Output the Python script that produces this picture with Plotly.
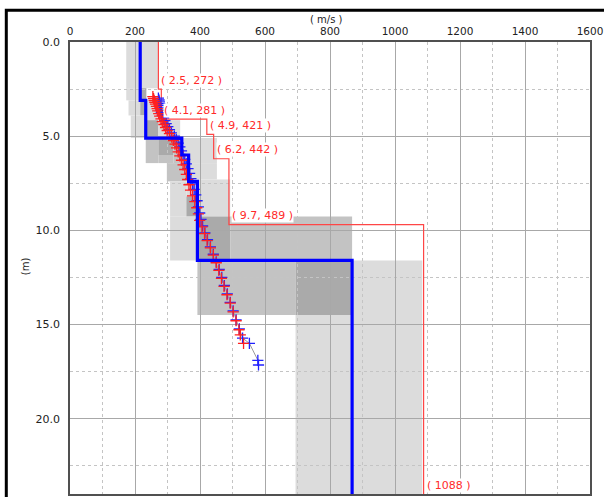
import plotly.graph_objects as go

# ---------------- data ----------------
# final Vs profile (blue step): layer boundaries (m) and Vs (m/s)
blue_depths = [0, 3.1, 5.1, 6.0, 7.4, 11.6, 24]
blue_vs = [216, 233, 344, 365, 392, 868]

# red step profile with labelled corners
red_depths = [0, 2.5, 4.1, 4.9, 6.2, 9.7, 24]
red_vs = [272, 281, 421, 442, 489, 1088]
red_labels = ["( 2.5, 272 )", "( 4.1, 281 )", "( 4.9, 421 )", "( 6.2, 442 )", "( 9.7, 489 )", "( 1088 )"]

# dispersion points (red)
red_pts_v = [255, 257, 259, 261, 263, 266, 268, 270, 273, 276, 280, 284, 289, 294, 299, 306, 313, 318,
             323, 328, 333, 338, 343, 348, 353, 358, 362, 366, 371, 377, 384, 390, 395, 399, 406, 414,
             422, 432, 441, 450, 458, 466, 474, 483, 493, 502, 511, 520, 524, 534]
red_pts_d = [2.90, 3.00, 3.10, 3.20, 3.30, 3.42, 3.54, 3.66, 3.80, 3.94, 4.08, 4.23, 4.38, 4.54, 4.70,
             4.87, 5.05, 5.23, 5.42, 5.62, 5.83, 6.05, 6.28, 6.52, 6.77, 7.03, 7.30, 7.58, 7.87, 8.17,
             8.48, 8.80, 9.13, 9.47, 9.82, 10.18, 10.55, 10.93, 11.32, 11.72, 12.13, 12.55, 12.98,
             13.42, 13.87, 14.33, 14.80, 15.28, 15.55, 16.0]
# dispersion points (blue)
blue_pts_v = [272, 274, 275, 276, 277, 278, 279, 281, 284, 288, 292, 296, 301, 306, 312, 321, 327, 333,
              338, 343, 348, 353, 358, 363, 368, 372, 377, 382, 387, 391, 395, 399, 403, 408, 415, 423,
              432, 441, 450, 459, 467, 475, 484, 493, 502, 511, 521, 531, 552, 578, 580]
blue_pts_d = [2.98, 3.08, 3.18, 3.28, 3.38, 3.50, 3.62, 3.75, 3.89, 4.03, 4.18, 4.33, 4.49, 4.65, 4.82,
              5.00, 5.18, 5.37, 5.57, 5.78, 6.00, 6.23, 6.47, 6.72, 6.98, 7.25, 7.53, 7.82, 8.12, 8.43,
              8.75, 9.08, 9.42, 9.77, 10.13, 10.50, 10.88, 11.27, 11.67, 12.08, 12.50, 12.93, 13.37,
              13.82, 14.28, 14.75, 15.23, 15.72, 16.00, 16.90, 17.15]

# shaded uncertainty regions: Vs range, depth range, shade level (1 light .. 3 dark)
reg_v0 = [173, 173, 180, 216, 187, 235, 235, 272, 233, 272, 318, 272, 344, 298, 365, 308, 358, 358, 392,
          308, 392, 493, 392, 694, 868, 694]
reg_v1 = [272, 216, 216, 235, 233, 272, 272, 339, 272, 318, 344, 318, 452, 365, 452, 358, 392, 392, 493,
          392, 493, 868, 694, 868, 1084, 1084]
reg_d0 = [0, 2.45, 3.1, 2.45, 3.9, 3.1, 4.15, 4.15, 5.1, 5.1, 5.1, 6.0, 5.1, 6.43, 6.43, 7.4, 7.4, 8.2, 7.3,
          9.27, 9.27, 9.27, 11.6, 11.6, 11.6, 14.5]
reg_d1 = [2.45, 3.1, 3.9, 3.9, 5.1, 4.15, 5.05, 5.05, 6.43, 6.0, 6.43, 6.43, 6.43, 7.4, 7.3, 9.27, 8.2, 9.27,
          9.27, 11.6, 11.6, 11.6, 14.5, 14.5, 14.5, 24]
reg_level = [1, 1, 1, 3, 1, 1, 3, 1, 2, 3, 2, 2, 1, 2, 1, 1, 1, 3, 1,
             1, 3, 2, 2, 3, 1, 1]

shade = {1: "#dcdcdc", 2: "#c3c3c3", 3: "#aaaaaa"}

# ---------------- figure ----------------
fig = go.Figure()


def step_xy(depths, vs):
    xs, ys = [], []
    for i, v in enumerate(vs):
        xs += [v, v]
        ys += [depths[i], depths[i + 1]]
    return xs, ys


for v0, v1, d0, d1, lv in zip(reg_v0, reg_v1, reg_d0, reg_d1, reg_level):
    fig.add_shape(type="rect", xref="x", yref="y", x0=v0, x1=v1, y0=d0, y1=d1,
                  fillcolor=shade[lv], line_width=0, layer="below")

rx, ry = step_xy(red_depths, red_vs)
fig.add_trace(go.Scatter(x=rx, y=ry, mode="lines", line=dict(color="#ff4646", width=1.2),
                         hoverinfo="skip", showlegend=False))

fig.add_trace(go.Scatter(x=blue_pts_v, y=blue_pts_d, mode="lines+markers",
                         line=dict(color="#9a9a9a", width=1),
                         marker=dict(symbol="cross-thin", size=8, line=dict(color="#2020ff", width=1.3)),
                         showlegend=False))
fig.add_trace(go.Scatter(x=red_pts_v, y=red_pts_d, mode="markers",
                         marker=dict(symbol="cross-thin", size=8, line=dict(color="#ff2020", width=1.3)),
                         showlegend=False))

bx, by = step_xy(blue_depths, blue_vs)
fig.add_trace(go.Scatter(x=bx, y=by, mode="lines", line=dict(color="#0000ff", width=3.2),
                         hoverinfo="skip", showlegend=False))

lab_font = dict(family="DejaVu Sans, Verdana, sans-serif", size=11, color="#ff2a2a")
for i, lab in enumerate(red_labels):
    fig.add_annotation(x=red_vs[i], y=red_depths[i + 1], xref="x", yref="y", text=lab,
                       showarrow=False, xanchor="left", yanchor="middle", xshift=2, yshift=9,
                       font=lab_font, bgcolor="white", borderpad=0)

axis_font = dict(family="DejaVu Sans, Verdana, sans-serif", size=11, color="#222222")
xtick_font = dict(family="DejaVu Sans, Verdana, sans-serif", size=10.5, color="#222222")
title_font = dict(family="DejaVu Sans, Verdana, sans-serif", size=10, color="#222222")

# axis titles
fig.add_annotation(xref="paper", yref="paper", x=0.494, y=1.049, text="( m/s )", showarrow=False,
                   xanchor="center", yanchor="middle", font=title_font)
fig.add_annotation(xref="paper", yref="paper", x=-0.0865, y=0.504, text="(m)", showarrow=False,
                   textangle=-90, xanchor="center", yanchor="middle", font=title_font)

# outer black frame
fig.add_shape(type="rect", xref="paper", yref="paper", x0=-0.1225, x1=1.06, y0=-0.05, y1=1.0705,
              line=dict(color="black", width=3), fillcolor="rgba(0,0,0,0)")

fig.update_layout(
    width=604, height=497,
    margin=dict(l=70, r=14, t=42, b=3),
    paper_bgcolor="white", plot_bgcolor="white",
    showlegend=False,
    font=axis_font,
    xaxis=dict(side="top", range=[0, 1600], dtick=200, tick0=0, showgrid=True,
               gridcolor="#a8a8a8", gridwidth=1.3, automargin=False,
               minor=dict(dtick=100, showgrid=True, gridcolor="#c4c4c4", griddash="dot", gridwidth=1),
               showline=True, linecolor="#505050", linewidth=1.5, mirror=True,
               ticks="", zeroline=False, tickfont=xtick_font, ticklabelstandoff=1),
    yaxis=dict(range=[24, 0], dtick=5, tick0=0, tickformat=".1f", showgrid=True,
               gridcolor="#a8a8a8", gridwidth=1.3, automargin=False,
               minor=dict(dtick=2.5, showgrid=True, gridcolor="#c4c4c4", griddash="dot", gridwidth=1),
               showline=True, linecolor="#505050", linewidth=1.5, mirror=True,
               ticks="", zeroline=False, tickfont=axis_font, ticklabelstandoff=6),
)

# remove the default page margin so the figure fills the window exactly
fig.write_html("out.html", config={"displayModeBar": False},
               post_script="document.body.style.margin='0';document.body.style.overflow='hidden';")
